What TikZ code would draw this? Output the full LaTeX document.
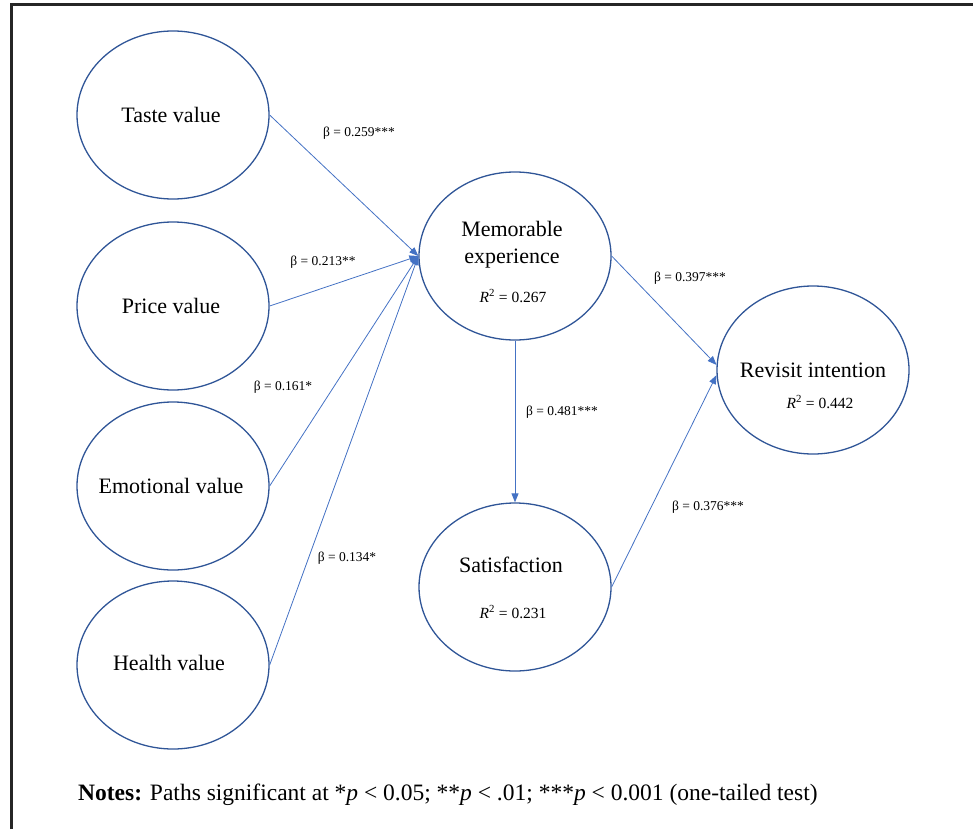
\documentclass[tikz,border=0pt]{standalone}
\usepackage{fontspec}
\setmainfont{Liberation Serif}
\usetikzlibrary{arrows.meta,shapes.geometric}
\definecolor{rimblue}{HTML}{2F5597}
\definecolor{pathblue}{HTML}{4472C4}

\begin{document}
\begin{tikzpicture}[x=1pt,y=-1pt,
  construct/.style={draw=rimblue, line width=1.3pt, ellipse, minimum width=192pt, minimum height=168pt, inner sep=0pt},
  caption/.style={font=\fontsize{22}{27}\selectfont, inner sep=0pt},
  rsq/.style={font=\fontsize{15.5}{19}\selectfont, inner sep=0pt},
  coef/.style={font=\fontsize{13.5}{16}\selectfont, inner sep=0pt},
  effect/.style={draw=pathblue, line width=0.8pt, -{Triangle[length=9pt,width=7pt]}}]
\useasboundingbox (0,0) rectangle (973,829);
\draw[line width=3pt, black!85] (11,829) -- (11,5) -- (973,5);

\node[construct] (taste) at (173,115) {};
\node[construct] (price) at (173,306) {};
\node[construct] (emotion) at (173,486) {};
\node[construct] (health) at (173,665) {};
\node[construct] (mem) at (515,256) {};
\node[construct] (sat) at (515,587) {};
\node[construct] (rev) at (813,370) {};

\node[caption] (tastetext) at (171,115) {Taste value};
\node[caption] (pricetext) at (171,306) {Price value};
\node[caption] (emotiontext) at (171,486) {Emotional value};
\node[caption] (healthtext) at (169,663) {Health value};
\node[caption, align=center] (memtext) at (512,245) {Memorable\\experience};
\node[rsq] (memr) at (513,296) {\textit{R}\textsuperscript{2} = 0.267};
\node[caption] (sattext) at (511,565) {Satisfaction};
\node[rsq] (satr) at (513,612) {\textit{R}\textsuperscript{2} = 0.231};
\node[caption] (revtext) at (813,370) {Revisit intention};
\node[rsq] (revr) at (820,402) {\textit{R}\textsuperscript{2} = 0.442};

\draw[effect] (taste.east) -- (mem.west);
\draw[effect] (price.east) -- (mem.west);
\draw[effect] (emotion.east) -- (mem.west);
\draw[effect] (health.east) -- (mem.west);
\draw[effect] (mem.south) -- (sat.north);
\draw[effect] (mem.east) -- (rev.177);
\draw[effect] (sat.east) -- (rev.183);

\node[coef] (b1) at (359,133) {β = 0.259***};
\node[coef] (b2) at (323,262) {β = 0.213**};
\node[coef] (b3) at (283,387) {β = 0.161*};
\node[coef] (b4) at (347,558) {β = 0.134*};
\node[coef] (b5) at (562,412) {β = 0.481***};
\node[coef] (b6) at (690,278) {β = 0.397***};
\node[coef] (b7) at (708,507) {β = 0.376***};

\node[caption, anchor=west, font=\fontsize{23.5}{28}\selectfont] (notes) at (78,795) {\textbf{Notes:} Paths significant at *\textit{p} < 0.05; **\textit{p} < .01; ***\textit{p} < 0.001 (one-tailed test)};
\end{tikzpicture}
\end{document}
